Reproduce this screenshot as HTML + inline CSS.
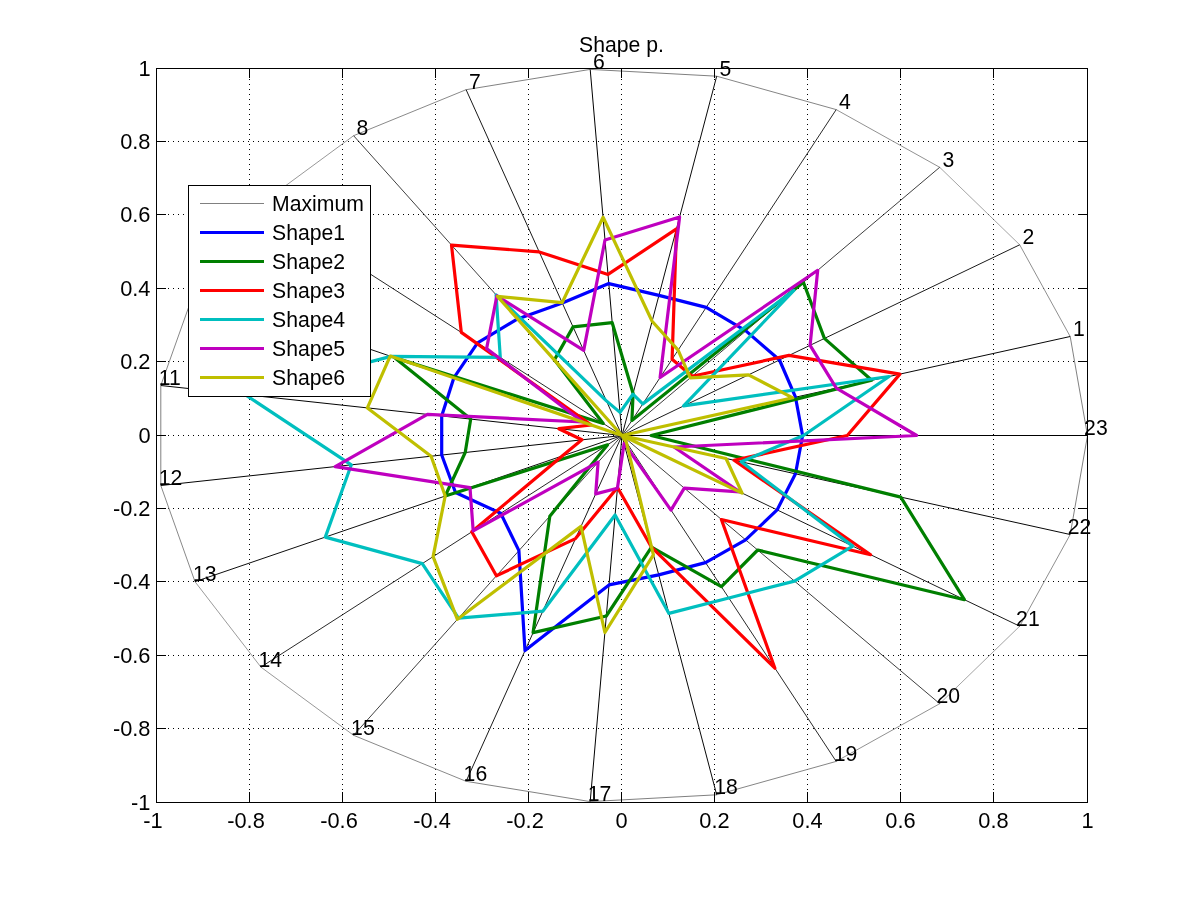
<!DOCTYPE html>
<html><head><meta charset="utf-8"><title>Shape p.</title>
<style>html,body{margin:0;padding:0;background:#fff}body{width:1201px;height:901px;overflow:hidden}svg{display:block}text{font-family:"Liberation Sans",Arial,Helvetica,sans-serif;font-size:21.20px;fill:#000}.t{font-size:21.8px}</style></head><body>
<svg width="1201" height="901" viewBox="0 0 1201 901">
<rect x="0" y="0" width="1201" height="901" fill="#fff"/>
<g stroke="#000" stroke-width="1" stroke-dasharray="1 4" fill="none" shape-rendering="crispEdges">
<line x1="249.5" y1="69.0" x2="249.5" y2="802.5"/>
<line x1="158.0" y1="141.5" x2="1087.5" y2="141.5"/>
<line x1="342.5" y1="69.0" x2="342.5" y2="802.5"/>
<line x1="158.0" y1="214.5" x2="1087.5" y2="214.5"/>
<line x1="435.5" y1="69.0" x2="435.5" y2="802.5"/>
<line x1="158.0" y1="288.5" x2="1087.5" y2="288.5"/>
<line x1="528.5" y1="69.0" x2="528.5" y2="802.5"/>
<line x1="158.0" y1="361.5" x2="1087.5" y2="361.5"/>
<line x1="621.5" y1="69.0" x2="621.5" y2="802.5"/>
<line x1="158.0" y1="435.5" x2="1087.5" y2="435.5"/>
<line x1="714.5" y1="69.0" x2="714.5" y2="802.5"/>
<line x1="158.0" y1="508.5" x2="1087.5" y2="508.5"/>
<line x1="807.5" y1="69.0" x2="807.5" y2="802.5"/>
<line x1="158.0" y1="581.5" x2="1087.5" y2="581.5"/>
<line x1="900.5" y1="69.0" x2="900.5" y2="802.5"/>
<line x1="158.0" y1="655.5" x2="1087.5" y2="655.5"/>
<line x1="993.5" y1="69.0" x2="993.5" y2="802.5"/>
<line x1="158.0" y1="728.5" x2="1087.5" y2="728.5"/>
</g>
<g stroke="#808080" fill="none">
<line x1="1070.2" y1="336.5" x2="1019.7" y2="244.8" stroke-width="0.88"/>
<line x1="1019.7" y1="244.8" x2="939.7" y2="167.3" stroke-width="0.72"/>
<line x1="939.7" y1="167.3" x2="836.2" y2="109.6" stroke-width="0.87"/>
<line x1="836.2" y1="109.6" x2="716.7" y2="76.2" stroke-width="0.96"/>
<line x1="716.7" y1="76.2" x2="590.2" y2="69.4" stroke-width="1.00"/>
<line x1="590.2" y1="69.4" x2="466.1" y2="89.7" stroke-width="0.99"/>
<line x1="466.1" y1="89.7" x2="353.6" y2="135.7" stroke-width="0.93"/>
<line x1="353.6" y1="135.7" x2="260.9" y2="203.9" stroke-width="0.81"/>
<line x1="260.9" y1="203.9" x2="195.0" y2="289.3" stroke-width="0.79"/>
<line x1="195.0" y1="289.3" x2="160.8" y2="385.5" stroke-width="0.94"/>
<line x1="160.8" y1="385.5" x2="160.8" y2="485.5" stroke-width="1.00"/>
<line x1="160.8" y1="485.5" x2="195.0" y2="581.7" stroke-width="0.94"/>
<line x1="195.0" y1="581.7" x2="260.9" y2="667.1" stroke-width="0.79"/>
<line x1="260.9" y1="667.1" x2="353.6" y2="735.3" stroke-width="0.81"/>
<line x1="353.6" y1="735.3" x2="466.1" y2="781.3" stroke-width="0.93"/>
<line x1="466.1" y1="781.3" x2="590.2" y2="801.6" stroke-width="0.99"/>
<line x1="590.2" y1="801.6" x2="716.7" y2="794.8" stroke-width="1.00"/>
<line x1="716.7" y1="794.8" x2="836.2" y2="761.4" stroke-width="0.96"/>
<line x1="836.2" y1="761.4" x2="939.7" y2="703.7" stroke-width="0.87"/>
<line x1="939.7" y1="703.7" x2="1019.7" y2="626.2" stroke-width="0.72"/>
<line x1="1019.7" y1="626.2" x2="1070.2" y2="534.5" stroke-width="0.88"/>
<line x1="1070.2" y1="534.5" x2="1087.5" y2="435.5" stroke-width="0.99"/>
<line x1="1087.5" y1="435.5" x2="1070.2" y2="336.5" stroke-width="0.99"/>
</g>
<g stroke="#000">
<line x1="622.0" y1="435.5" x2="1070.2" y2="336.5" stroke-width="0.98"/>
<line x1="622.0" y1="435.5" x2="1019.7" y2="244.8" stroke-width="0.90"/>
<line x1="622.0" y1="435.5" x2="939.7" y2="167.3" stroke-width="0.76"/>
<line x1="622.0" y1="435.5" x2="836.2" y2="109.6" stroke-width="0.84"/>
<line x1="622.0" y1="435.5" x2="716.7" y2="76.2" stroke-width="0.97"/>
<line x1="622.0" y1="435.5" x2="590.2" y2="69.4" stroke-width="1.00"/>
<line x1="622.0" y1="435.5" x2="466.1" y2="89.7" stroke-width="0.91"/>
<line x1="622.0" y1="435.5" x2="353.6" y2="135.7" stroke-width="0.75"/>
<line x1="622.0" y1="435.5" x2="260.9" y2="203.9" stroke-width="0.84"/>
<line x1="622.0" y1="435.5" x2="195.0" y2="289.3" stroke-width="0.95"/>
<line x1="622.0" y1="435.5" x2="160.8" y2="385.5" stroke-width="0.99"/>
<line x1="622.0" y1="435.5" x2="160.8" y2="485.5" stroke-width="0.99"/>
<line x1="622.0" y1="435.5" x2="195.0" y2="581.7" stroke-width="0.95"/>
<line x1="622.0" y1="435.5" x2="260.9" y2="667.1" stroke-width="0.84"/>
<line x1="622.0" y1="435.5" x2="353.6" y2="735.3" stroke-width="0.75"/>
<line x1="622.0" y1="435.5" x2="466.1" y2="781.3" stroke-width="0.91"/>
<line x1="622.0" y1="435.5" x2="590.2" y2="801.6" stroke-width="1.00"/>
<line x1="622.0" y1="435.5" x2="716.7" y2="794.8" stroke-width="0.97"/>
<line x1="622.0" y1="435.5" x2="836.2" y2="761.4" stroke-width="0.84"/>
<line x1="622.0" y1="435.5" x2="939.7" y2="703.7" stroke-width="0.76"/>
<line x1="622.0" y1="435.5" x2="1019.7" y2="626.2" stroke-width="0.90"/>
<line x1="622.0" y1="435.5" x2="1070.2" y2="534.5" stroke-width="0.98"/>
<line x1="622.0" y1="435.5" x2="1087.5" y2="435.5" stroke-width="1.00"/>
</g>
<polygon points="795.5,397.2 779.5,360.0 745.9,330.9 706.2,307.4 658.9,295.4 608.8,283.6 562.3,303.1 517.6,318.9 477.6,342.9 453.8,377.9 441.7,416.0 441.7,455.0 455.5,492.5 500.7,513.3 518.9,550.6 525.0,650.6 609.0,584.9 658.7,574.9 705.5,562.6 745.6,539.8 777.1,509.9 795.5,473.8 802.6,435.5" fill="none" stroke="#0000ff" stroke-width="3.2" stroke-linejoin="round"/>
<polygon points="871.7,380.3 824.4,338.4 803.4,282.3 631.9,420.5 633.1,393.5 612.2,322.7 573.1,326.9 554.4,359.9 603.2,423.5 394.4,357.6 470.7,419.1 465.2,452.5 445.2,496.0 607.6,444.8 549.8,516.2 533.1,632.6 606.3,616.0 651.5,547.2 721.4,586.7 757.7,550.0 964.4,599.7 900.8,497.1 651.1,435.5" fill="none" stroke="#007f00" stroke-width="3.2" stroke-linejoin="round"/>
<polygon points="899.9,374.1 789.0,355.4 692.2,376.2 672.1,359.3 676.5,228.9 608.0,274.4 539.2,251.9 451.5,245.1 461.3,332.4 591.3,425.0 558.8,428.7 581.9,439.8 562.2,456.0 471.8,531.8 496.4,575.8 575.5,538.6 617.5,487.5 651.5,547.2 774.9,668.2 721.4,519.5 870.6,554.7 734.1,460.3 847.3,435.5" fill="none" stroke="#ff0000" stroke-width="3.2" stroke-linejoin="round"/>
<polygon points="889.1,376.5 683.6,405.9 793.9,290.4 642.8,403.9 632.9,394.2 620.0,412.4 606.4,400.9 496.1,294.9 500.3,357.4 391.0,356.4 245.2,394.7 351.3,464.8 325.3,537.1 422.3,563.6 458.5,618.1 542.8,611.2 615.1,515.0 668.9,613.4 728.8,598.0 794.5,581.1 852.7,546.1 741.2,461.8 803.5,435.5" fill="none" stroke="#00bfbf" stroke-width="3.2" stroke-linejoin="round"/>
<polygon points="836.3,388.2 810.1,345.3 817.7,270.3 660.1,377.5 679.6,217.0 605.0,240.0 583.7,350.4 496.9,295.8 486.6,348.6 582.7,422.0 427.4,414.4 335.2,466.6 470.0,487.6 473.2,530.9 598.1,462.2 595.7,493.9 617.4,488.2 624.1,443.4 671.0,510.1 684.3,488.1 739.7,491.9 674.0,447.0 916.7,435.5" fill="none" stroke="#bf00bf" stroke-width="3.2" stroke-linejoin="round"/>
<polygon points="792.8,397.8 748.5,374.9 690.3,377.8 678.1,350.1 652.1,321.2 603.1,217.3 562.1,302.7 497.4,296.4 622.0,435.5 390.2,356.1 367.4,407.9 431.1,456.2 445.2,496.0 433.1,556.6 457.4,619.3 581.0,526.4 604.9,632.5 653.4,554.8 626.3,442.0 622.0,435.5 742.1,493.1 726.0,458.5 622.0,435.5" fill="none" stroke="#bfbf00" stroke-width="3.2" stroke-linejoin="round"/>
<text x="1073.0" y="336.0">1</text>
<text x="1022.5" y="244.3">2</text>
<text x="942.5" y="166.8">3</text>
<text x="839.0" y="109.1">4</text>
<text x="719.5" y="75.7">5</text>
<text x="593.0" y="68.9">6</text>
<text x="468.9" y="89.2">7</text>
<text x="356.4" y="135.2">8</text>
<text x="263.7" y="203.4">9</text>
<text x="192.5" y="288.8">10</text>
<text x="158.8" y="385.0">11</text>
<text x="158.8" y="485.0">12</text>
<text x="193.0" y="581.2">13</text>
<text x="258.4" y="666.6">14</text>
<text x="351.1" y="734.8">15</text>
<text x="463.6" y="780.8">16</text>
<text x="587.7" y="801.1">17</text>
<text x="714.2" y="794.3">18</text>
<text x="833.7" y="760.9">19</text>
<text x="936.5" y="703.2">20</text>
<text x="1016.1" y="625.7">21</text>
<text x="1067.7" y="534.0">22</text>
<text x="1084.1" y="435.0">23</text>
<g stroke="#000" stroke-width="1" fill="none" shape-rendering="crispEdges">
<rect x="156.5" y="68.5" width="931.0" height="734.0"/>
<line x1="156.5" y1="802.5" x2="156.5" y2="791.5"/>
<line x1="156.5" y1="68.5" x2="156.5" y2="77.5"/>
<line x1="156.5" y1="68.5" x2="165.5" y2="68.5"/>
<line x1="1087.5" y1="68.5" x2="1077.5" y2="68.5"/>
<line x1="249.5" y1="802.5" x2="249.5" y2="791.5"/>
<line x1="249.5" y1="68.5" x2="249.5" y2="77.5"/>
<line x1="156.5" y1="141.5" x2="165.5" y2="141.5"/>
<line x1="1087.5" y1="141.5" x2="1077.5" y2="141.5"/>
<line x1="342.5" y1="802.5" x2="342.5" y2="791.5"/>
<line x1="342.5" y1="68.5" x2="342.5" y2="77.5"/>
<line x1="156.5" y1="214.5" x2="165.5" y2="214.5"/>
<line x1="1087.5" y1="214.5" x2="1077.5" y2="214.5"/>
<line x1="435.5" y1="802.5" x2="435.5" y2="791.5"/>
<line x1="435.5" y1="68.5" x2="435.5" y2="77.5"/>
<line x1="156.5" y1="288.5" x2="165.5" y2="288.5"/>
<line x1="1087.5" y1="288.5" x2="1077.5" y2="288.5"/>
<line x1="528.5" y1="802.5" x2="528.5" y2="791.5"/>
<line x1="528.5" y1="68.5" x2="528.5" y2="77.5"/>
<line x1="156.5" y1="361.5" x2="165.5" y2="361.5"/>
<line x1="1087.5" y1="361.5" x2="1077.5" y2="361.5"/>
<line x1="621.5" y1="802.5" x2="621.5" y2="791.5"/>
<line x1="621.5" y1="68.5" x2="621.5" y2="77.5"/>
<line x1="156.5" y1="435.5" x2="165.5" y2="435.5"/>
<line x1="1087.5" y1="435.5" x2="1077.5" y2="435.5"/>
<line x1="714.5" y1="802.5" x2="714.5" y2="791.5"/>
<line x1="714.5" y1="68.5" x2="714.5" y2="77.5"/>
<line x1="156.5" y1="508.5" x2="165.5" y2="508.5"/>
<line x1="1087.5" y1="508.5" x2="1077.5" y2="508.5"/>
<line x1="807.5" y1="802.5" x2="807.5" y2="791.5"/>
<line x1="807.5" y1="68.5" x2="807.5" y2="77.5"/>
<line x1="156.5" y1="581.5" x2="165.5" y2="581.5"/>
<line x1="1087.5" y1="581.5" x2="1077.5" y2="581.5"/>
<line x1="900.5" y1="802.5" x2="900.5" y2="791.5"/>
<line x1="900.5" y1="68.5" x2="900.5" y2="77.5"/>
<line x1="156.5" y1="655.5" x2="165.5" y2="655.5"/>
<line x1="1087.5" y1="655.5" x2="1077.5" y2="655.5"/>
<line x1="993.5" y1="802.5" x2="993.5" y2="791.5"/>
<line x1="993.5" y1="68.5" x2="993.5" y2="77.5"/>
<line x1="156.5" y1="728.5" x2="165.5" y2="728.5"/>
<line x1="1087.5" y1="728.5" x2="1077.5" y2="728.5"/>
<line x1="1087.5" y1="802.5" x2="1087.5" y2="791.5"/>
<line x1="1087.5" y1="68.5" x2="1087.5" y2="77.5"/>
<line x1="156.5" y1="802.5" x2="165.5" y2="802.5"/>
<line x1="1087.5" y1="802.5" x2="1077.5" y2="802.5"/>
</g>
<text x="153.0" y="827.6" text-anchor="middle" class="t">-1</text>
<text x="150.5" y="809.7" text-anchor="end" class="t">-1</text>
<text x="246.0" y="827.6" text-anchor="middle" class="t">-0.8</text>
<text x="150.5" y="735.7" text-anchor="end" class="t">-0.8</text>
<text x="339.0" y="827.6" text-anchor="middle" class="t">-0.6</text>
<text x="150.5" y="662.7" text-anchor="end" class="t">-0.6</text>
<text x="432.0" y="827.6" text-anchor="middle" class="t">-0.4</text>
<text x="150.5" y="588.7" text-anchor="end" class="t">-0.4</text>
<text x="525.0" y="827.6" text-anchor="middle" class="t">-0.2</text>
<text x="150.5" y="515.7" text-anchor="end" class="t">-0.2</text>
<text x="621.5" y="827.6" text-anchor="middle" class="t">0</text>
<text x="150.5" y="442.7" text-anchor="end" class="t">0</text>
<text x="714.5" y="827.6" text-anchor="middle" class="t">0.2</text>
<text x="150.5" y="368.7" text-anchor="end" class="t">0.2</text>
<text x="807.5" y="827.6" text-anchor="middle" class="t">0.4</text>
<text x="150.5" y="295.7" text-anchor="end" class="t">0.4</text>
<text x="900.5" y="827.6" text-anchor="middle" class="t">0.6</text>
<text x="150.5" y="221.7" text-anchor="end" class="t">0.6</text>
<text x="993.5" y="827.6" text-anchor="middle" class="t">0.8</text>
<text x="150.5" y="148.7" text-anchor="end" class="t">0.8</text>
<text x="1087.5" y="827.6" text-anchor="middle" class="t">1</text>
<text x="150.5" y="75.7" text-anchor="end" class="t">1</text>
<text x="621.5" y="51.5" text-anchor="middle">Shape p.</text>
<rect x="188.5" y="185.5" width="182" height="211" fill="#fff" stroke="#000" stroke-width="1" shape-rendering="crispEdges"/>
<line x1="200" y1="203.5" x2="264" y2="203.5" stroke="#808080" stroke-width="1"/>
<text x="272" y="211.0">Maximum</text>
<line x1="200" y1="232.5" x2="264" y2="232.5" stroke="#0000ff" stroke-width="3" shape-rendering="crispEdges"/>
<text x="272" y="240.0">Shape1</text>
<line x1="200" y1="261.5" x2="264" y2="261.5" stroke="#007f00" stroke-width="3" shape-rendering="crispEdges"/>
<text x="272" y="269.0">Shape2</text>
<line x1="200" y1="290.5" x2="264" y2="290.5" stroke="#ff0000" stroke-width="3" shape-rendering="crispEdges"/>
<text x="272" y="298.0">Shape3</text>
<line x1="200" y1="319.5" x2="264" y2="319.5" stroke="#00bfbf" stroke-width="3" shape-rendering="crispEdges"/>
<text x="272" y="327.0">Shape4</text>
<line x1="200" y1="348.5" x2="264" y2="348.5" stroke="#bf00bf" stroke-width="3" shape-rendering="crispEdges"/>
<text x="272" y="356.0">Shape5</text>
<line x1="200" y1="377.5" x2="264" y2="377.5" stroke="#bfbf00" stroke-width="3" shape-rendering="crispEdges"/>
<text x="272" y="385.0">Shape6</text>
</svg></body></html>
